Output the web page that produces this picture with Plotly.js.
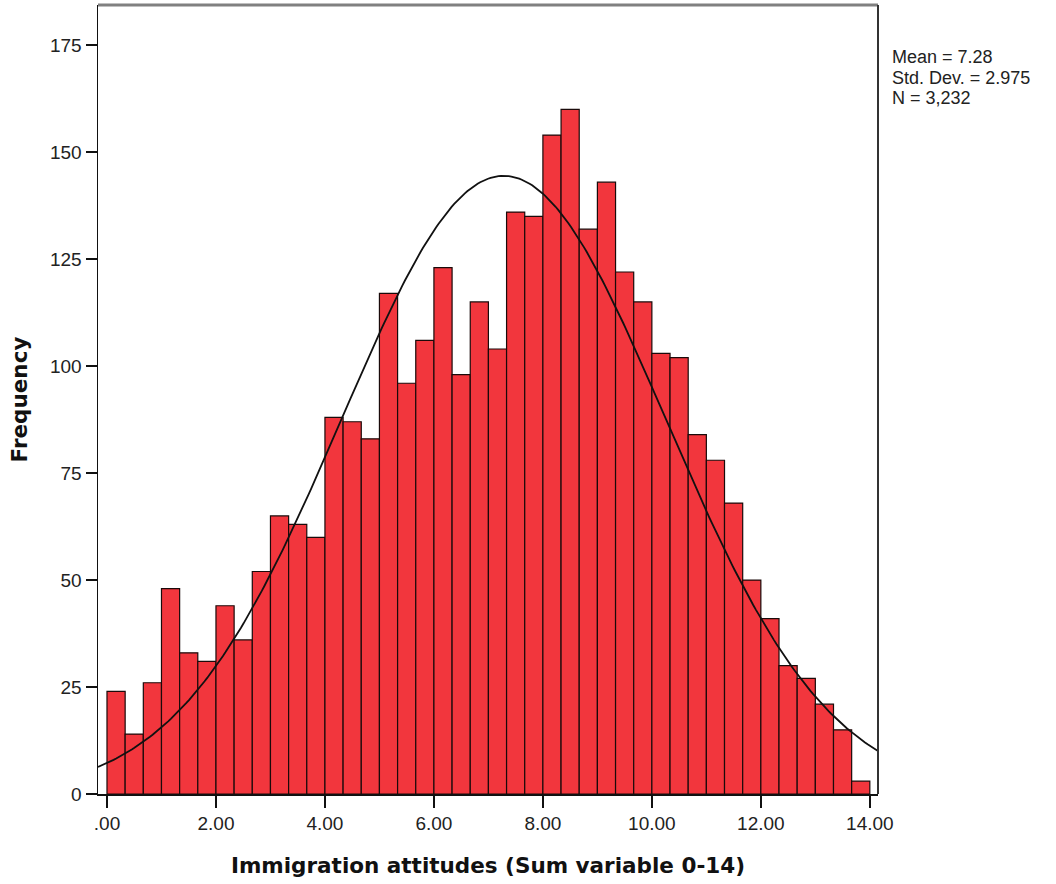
<!DOCTYPE html>
<html>
<head>
<meta charset="utf-8">
<script src="https://cdn.plot.ly/plotly-3.0.1.min.js"></script>
<style>html,body{margin:0;padding:0;background:#fff;}#chart{width:1056px;height:884px;}</style>
</head>
<body>
<div id="chart"></div>
<script>
// Frequencies per bin (bin width 1/3, from 0 to 14)
var binStart = 0;
var binWidth = 1 / 3;
var frequencies = [24, 14, 26, 48, 33, 31, 44, 36, 52, 65, 63, 60, 88, 87, 83, 117, 96, 106, 123, 98, 115, 104, 136, 135, 154, 160, 132, 143, 122, 115, 103, 102, 84, 78, 68, 50, 41, 30, 27, 21, 15, 3];
// Summary statistics shown on the chart
var mean = 7.28;
var stdDev = 2.975;
var n = 3232;
var statLabels = ['Mean = 7.28', 'Std. Dev. = 2.975', 'N = 3,232'];
var xTickValues = [0, 2, 4, 6, 8, 10, 12, 14];
var xTickLabels = [".00", "2.00", "4.00", "6.00", "8.00", "10.00", "12.00", "14.00"];
var yTickValues = [0, 25, 50, 75, 100, 125, 150, 175];

var xRange = [-0.165, 14.15];
var binCenters = frequencies.map(function (_, i) { return binStart + (i + 0.5) * binWidth; });

// Fitted normal curve from the stated mean, std. dev. and N
var curveX = [], curveY = [];
var steps = 300;
for (var k = 0; k <= steps; k++) {
  var x = xRange[0] + (xRange[1] - xRange[0]) * k / steps;
  var z = (x - mean) / stdDev;
  curveX.push(x);
  curveY.push(n * binWidth * Math.exp(-0.5 * z * z) / (stdDev * Math.sqrt(2 * Math.PI)));
}

var bars = {
  type: 'bar',
  x: binCenters,
  y: frequencies,
  width: binWidth,
  marker: {color: '#f2363d', line: {color: '#1a0a0a', width: 1.2}},
  hoverinfo: 'x+y'
};
var curve = {
  type: 'scatter',
  mode: 'lines',
  x: curveX,
  y: curveY,
  line: {color: '#111111', width: 1.8},
  hoverinfo: 'skip'
};

var statYs = [0.934, 0.908, 0.882];
var annotations = statLabels.map(function (t, i) {
  return {
    xref: 'paper', yref: 'paper', x: 1.017, y: statYs[i], xanchor: 'left', yanchor: 'middle', align: 'left',
    showarrow: false, text: t, borderpad: 0,
    font: {size: 18, family: 'Liberation Sans, Arial, sans-serif', color: '#222'}
  };
});

var layout = {
  width: 1056,
  height: 884,
  margin: {l: 98, r: 178, t: 5, b: 90},
  paper_bgcolor: '#ffffff',
  plot_bgcolor: '#ffffff',
  showlegend: false,
  bargap: 0,
  font: {family: 'Liberation Sans, Arial, sans-serif', color: '#111'},
  xaxis: {
    range: xRange,
    tickvals: xTickValues,
    ticktext: xTickLabels,
    ticks: 'outside',
    ticklen: 12,
    tickwidth: 1.5,
    tickcolor: '#111',
    tickfont: {size: 19, family: 'Liberation Sans, Arial, sans-serif', color: '#222'},
    showgrid: false,
    zeroline: false,
    showline: true,
    linecolor: '#111',
    linewidth: 1.5,
    title: {text: 'Immigration attitudes (Sum variable 0-14)', font: {size: 21.5, family: 'DejaVu Sans, Verdana, sans-serif', color: '#111', weight: 'bold'}, standoff: 24}
  },
  yaxis: {
    range: [0, 184.4],
    tickvals: yTickValues,
    ticks: 'outside',
    ticklen: 11,
    tickwidth: 1.5,
    tickcolor: '#111',
    tickfont: {size: 19, family: 'Liberation Sans, Arial, sans-serif', color: '#222'},
    showgrid: false,
    zeroline: false,
    showline: true,
    linecolor: '#111',
    linewidth: 1.5,
    title: {text: 'Frequency', font: {size: 21.5, family: 'DejaVu Sans, Verdana, sans-serif', color: '#111', weight: 'bold'}, standoff: 16}
  },
  shapes: [
    {type: 'line', xref: 'paper', yref: 'paper', x0: 0, x1: 1, y0: 1, y1: 1, line: {color: '#808080', width: 3}},
    {type: 'line', xref: 'paper', yref: 'paper', x0: 1, x1: 1, y0: 0, y1: 1, line: {color: '#333333', width: 2}}
  ],
  annotations: annotations
};

Plotly.newPlot('chart', [bars, curve], layout, {displayModeBar: false, staticPlot: true});
</script>
</body>
</html>
